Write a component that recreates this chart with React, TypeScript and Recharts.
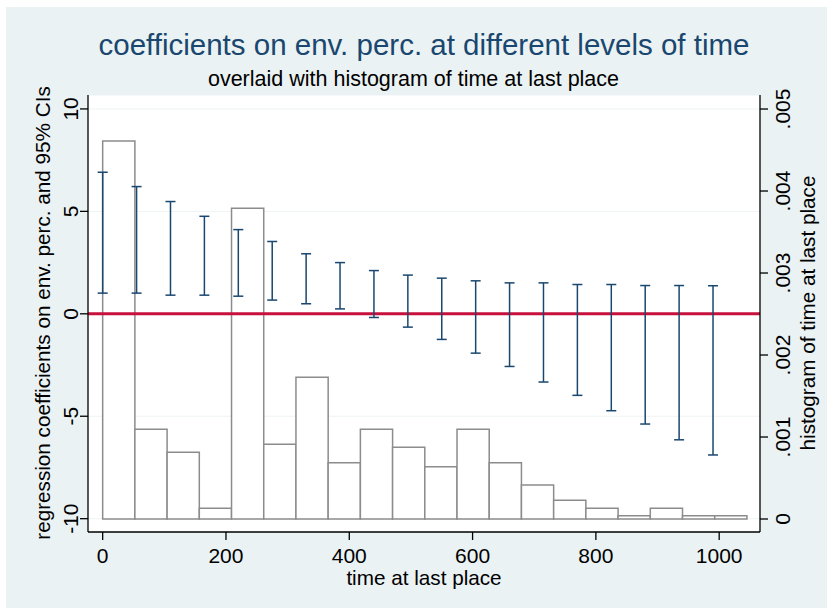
import React from 'react';
import { ComposedChart, Scatter, ErrorBar, XAxis, YAxis, CartesianGrid, ReferenceLine, ReferenceArea } from 'recharts';

// histogram of time at last place (bin edges, density per bin)
const binEdges = [0, 52.25, 104.5, 156.75, 209, 261.25, 313.5, 365.75, 418, 470.25, 522.5, 574.75, 627, 679.25, 731.5, 783.75, 836, 888.25, 940.5, 992.75, 1045];
const density = [0.00461, 0.001094, 0.000813, 0.00013, 0.003789, 0.000911, 0.001728, 0.000687, 0.001094, 0.000874, 0.000638, 0.001094, 0.000687, 0.000415, 0.000228, 0.00013, 0.00004, 0.00013, 0.00004, 0.00004];

// coefficients and 95% CIs at levels of time
const ciX = [0, 55, 110, 165, 220, 275, 330, 385, 440, 495, 550, 605, 660, 715, 770, 825, 880, 935, 990];
const ciLow = [1.01, 1.01, 0.91, 0.91, 0.86, 0.67, 0.49, 0.24, -0.18, -0.65, -1.25, -1.92, -2.57, -3.33, -3.98, -4.73, -5.38, -6.15, -6.89];
const ciHigh = [6.91, 6.21, 5.48, 4.76, 4.11, 3.53, 2.93, 2.5, 2.11, 1.89, 1.74, 1.61, 1.51, 1.51, 1.43, 1.43, 1.38, 1.38, 1.37];

const xTicks = [0, 200, 400, 600, 800, 1000];
const leftTicks = [-10, -5, 0, 5, 10];
const rightTicks = [0, 0.001, 0.002, 0.003, 0.004, 0.005];

const FONT = '"Liberation Sans", Arial, Helvetica, sans-serif';
const NAVY = '#1a476f';

const ciData = ciX.map((x, i) => ({ x, mid: (ciLow[i] + ciHigh[i]) / 2, half: (ciHigh[i] - ciLow[i]) / 2 }));

const fmtRight = (v: number) => (v === 0 ? '0' : v.toFixed(3).replace(/^0/, ''));

const LeftTick = ({ x, y, payload }: any) => (
  <text x={x - 2} y={y} transform={`rotate(-90, ${x - 2}, ${y})`} textAnchor="middle" fontSize={21} fontFamily={FONT} fill="#000">
    {payload.value}
  </text>
);

const RightTick = ({ x, y, payload }: any) => (
  <text x={x + 22} y={y} transform={`rotate(-90, ${x + 22}, ${y})`} textAnchor="middle" fontSize={21} fontFamily={FONT} fill="#000">
    {fmtRight(payload.value)}
  </text>
);

const BottomTick = ({ x, payload }: any) => (
  <text x={x} y={563} textAnchor="middle" fontSize={21} fontFamily={FONT} fill="#000">
    {payload.value}
  </text>
);

const NoDot = () => <g />;

export default function App() {
  return (
    <div style={{ position: 'absolute', left: 0, top: 0, width: 827, height: 608, background: '#fff', fontFamily: FONT }}>
      <div style={{ position: 'absolute', left: 6, top: 7, width: 821, height: 601, background: '#eaf2f3' }} />
      <ComposedChart
        width={827}
        height={608}
        margin={{ top: 95, right: 0, bottom: 0, left: 0 }}
        style={{ position: 'absolute', left: 0, top: 0 }}
      >
        <CartesianGrid yAxisId="left" vertical={false} stroke="#eef3f3" fill="#fff" />
        <XAxis
          dataKey="x"
          type="number"
          domain={[-23.8, 1066.2]}
          ticks={xTicks}
          height={76}
          tickSize={8}
          tick={<BottomTick />}
          axisLine={{ stroke: '#000', strokeWidth: 1.3 }}
          tickLine={{ stroke: '#000', strokeWidth: 1.3 }}
          allowDataOverflow
        />
        <YAxis
          yAxisId="left"
          orientation="left"
          width={88}
          domain={[-10.65, 10.68]}
          ticks={leftTicks}
          tickSize={8}
          tickMargin={0}
          tick={<LeftTick />}
          axisLine={{ stroke: '#000', strokeWidth: 1.3 }}
          tickLine={{ stroke: '#000', strokeWidth: 1.3 }}
          allowDataOverflow
        />
        <YAxis
          yAxisId="right"
          orientation="right"
          width={67}
          domain={[-0.0001585, 0.005171]}
          ticks={rightTicks}
          tickSize={8}
          tickMargin={0}
          tick={<RightTick />}
          axisLine={{ stroke: '#000', strokeWidth: 1.3 }}
          tickLine={{ stroke: '#000', strokeWidth: 1.3 }}
          allowDataOverflow
        />
        {density.map((d, i) => (
          <ReferenceArea
            key={`bin-${i}`}
            yAxisId="right"
            x1={binEdges[i]}
            x2={binEdges[i + 1]}
            y1={0}
            y2={d}
            fill="#fff"
            fillOpacity={1}
            stroke="#8c8c8c"
            strokeWidth={1.5}
          />
        ))}
        <ReferenceLine yAxisId="left" y={0} stroke="#c8103c" strokeWidth={3} />
        <Scatter yAxisId="left" data={ciData} dataKey="mid" shape={<NoDot />} isAnimationActive={false}>
          <ErrorBar dataKey="half" direction="y" width={5} stroke={NAVY} strokeWidth={1.5} />
        </Scatter>
      </ComposedChart>
      <div style={{ position: 'absolute', left: 88, width: 672, top: 28, textAlign: 'center', fontSize: 29.5, color: NAVY, whiteSpace: 'nowrap' }}>
        coefficients on env. perc. at different levels of time
      </div>
      <div style={{ position: 'absolute', left: 0, width: 827, top: 67, textAlign: 'center', fontSize: 21.5, color: '#000', whiteSpace: 'nowrap' }}>
        overlaid with histogram of time at last place
      </div>
      <div style={{ position: 'absolute', left: 88, width: 672, top: 566, textAlign: 'center', fontSize: 20.7, color: '#000', whiteSpace: 'nowrap' }}>
        time at last place
      </div>
      <div style={{ position: 'absolute', left: 43, top: 313, transform: 'translate(-50%, -50%) rotate(-90deg)', fontSize: 20.7, color: '#000', whiteSpace: 'nowrap' }}>
        regression coefficients on env. perc. and 95% CIs
      </div>
      <div style={{ position: 'absolute', left: 808, top: 313, transform: 'translate(-50%, -50%) rotate(-90deg)', fontSize: 20.7, color: '#000', whiteSpace: 'nowrap' }}>
        histogram of time at last place
      </div>
    </div>
  );
}
